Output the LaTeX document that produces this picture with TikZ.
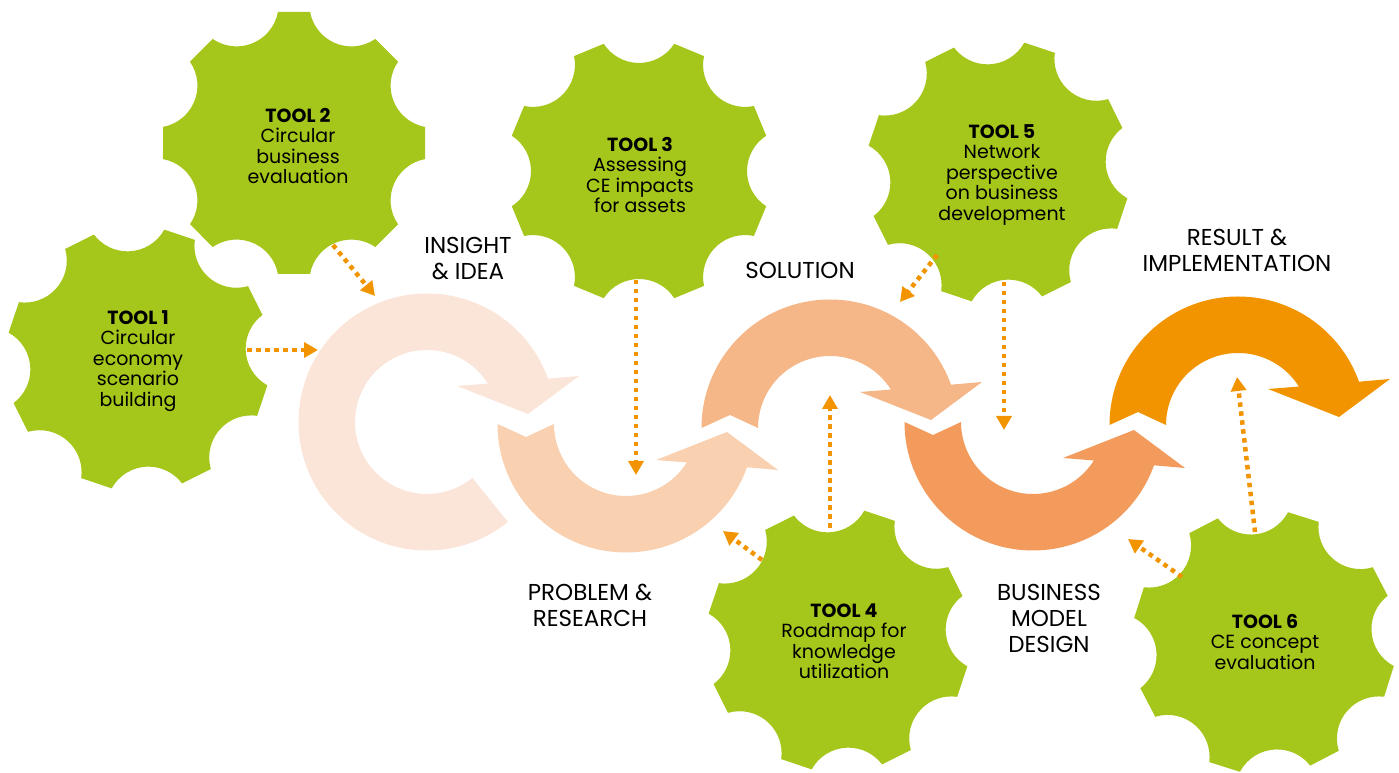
\documentclass[tikz,border=0pt]{standalone}
\usepackage{fontspec}
\setmainfont{Poppins}
\usetikzlibrary{arrows.meta}
\definecolor{gearc}{HTML}{A5C61A}
\definecolor{ringa}{HTML}{FBE5D9}
\definecolor{ringb}{HTML}{F9D0B0}
\definecolor{ringc}{HTML}{F5B688}
\definecolor{ringd}{HTML}{F29B5C}
\definecolor{ringe}{HTML}{F29400}
\definecolor{dotc}{HTML}{F29400}
\begin{document}
\begin{tikzpicture}[x=1pt, y=1pt, line join=round,
	gear/.pic={\fill[gearc] (-15.5:132) \foreach \k in {0,...,7}{
			arc[start angle={45*\k+237.1}, end angle={45*\k+122.9}, radius=42] -- ({45*\k+29.5}:132)} -- cycle;},
	halfring/.pic={\path[pic actions] (180:128.5) arc[start angle=180, end angle=19.7, radius=128.5]
		-- (152,46) -- (101,8) -- (30,36) -- (32.3:72) arc[start angle=32.3, end angle=180, radius=72] -- (-100,13) -- cycle;},
	tool/.style={align=center, font=\fontsize{19}{20.5}\selectfont},
	lbl/.style={align=center, font=\fontsize{23}{26}\selectfont},
	dots/.style={draw=dotc, line width=4.5pt, dash pattern=on 4.5pt off 4.5pt, -{Triangle[length=14pt, width=15pt]}}]
	\useasboundingbox (0,0) rectangle (1399,773);
	% process rings
	\fill[ringa, shift={(427,351)}] (309:128.5) arc[start angle=309, end angle=19.7, radius=128.5]
		-- (152,46) -- (101,8) -- (30,36) -- (32.3:72) arc[start angle=32.3, end angle=309, radius=72] -- cycle;
	\pic[fill=ringb, yscale=-1] at (626,349) {halfring};
	\pic[fill=ringc] at (830,345) {halfring};
	\pic[fill=ringd, yscale=-1] at (1033,351) {halfring};
	\pic[fill=ringe] at (1238,348) {halfring};
	% gears
	\pic[rotate=4] at (138,414) {gear};
	\pic[rotate=22.5] at (294,630) {gear};
	\pic at (639,602) {gear};
	\pic[rotate=4] at (838,133) {gear};
	\pic[rotate=4] at (998,601) {gear};
	\pic[rotate=5] at (1264,131) {gear};
	\node[tool] (t1) at (138,412) {\textbf{TOOL 1}\\Circular\\economy\\scenario\\building};
	\node[tool] (t2) at (298,627) {\textbf{TOOL 2}\\Circular\\business\\evaluation};
	\node[tool] (t3) at (640,598) {\textbf{TOOL 3}\\Assessing\\CE impacts\\for assets};
	\node[tool] (t4) at (844,132) {\textbf{TOOL 4}\\Roadmap for\\knowledge\\utilization};
	\node[tool] (t5) at (1002,598) {\textbf{TOOL 5}\\Network\\perspective\\on business\\development};
	\node[tool] (t6) at (1265,131) {\textbf{TOOL 6}\\CE concept\\evaluation};
	% phase labels
	\node[lbl] (insight) at (468,514) {INSIGHT\\\& IDEA};
	\node[lbl] (solution) at (800,503) {SOLUTION};
	\node[lbl] (result) at (1237,523) {RESULT \&\\IMPLEMENTATION};
	\node[lbl] (problem) at (590,168) {PROBLEM \&\\RESEARCH};
	\node[lbl] (bmd) at (1049,155) {BUSINESS\\MODEL\\DESIGN};
	% dotted links
	\foreach \n/\sx/\sy/\ex/\ey in {1/247/423/318/423, 2/333/528/375/477, 3/636/493/636/298,
		4/937/518/900/471, 5/1004/491/1004/343, 6/830/245/830/378,
		7/762/213/723/242, 8/1182/196/1128/234, 9/1255/241/1237/396}{
		\coordinate (s\n) at (\sx,\sy);
		\coordinate (e\n) at (\ex,\ey);
		\draw[dots] (s\n) -- (e\n);}
\end{tikzpicture}
\end{document}
